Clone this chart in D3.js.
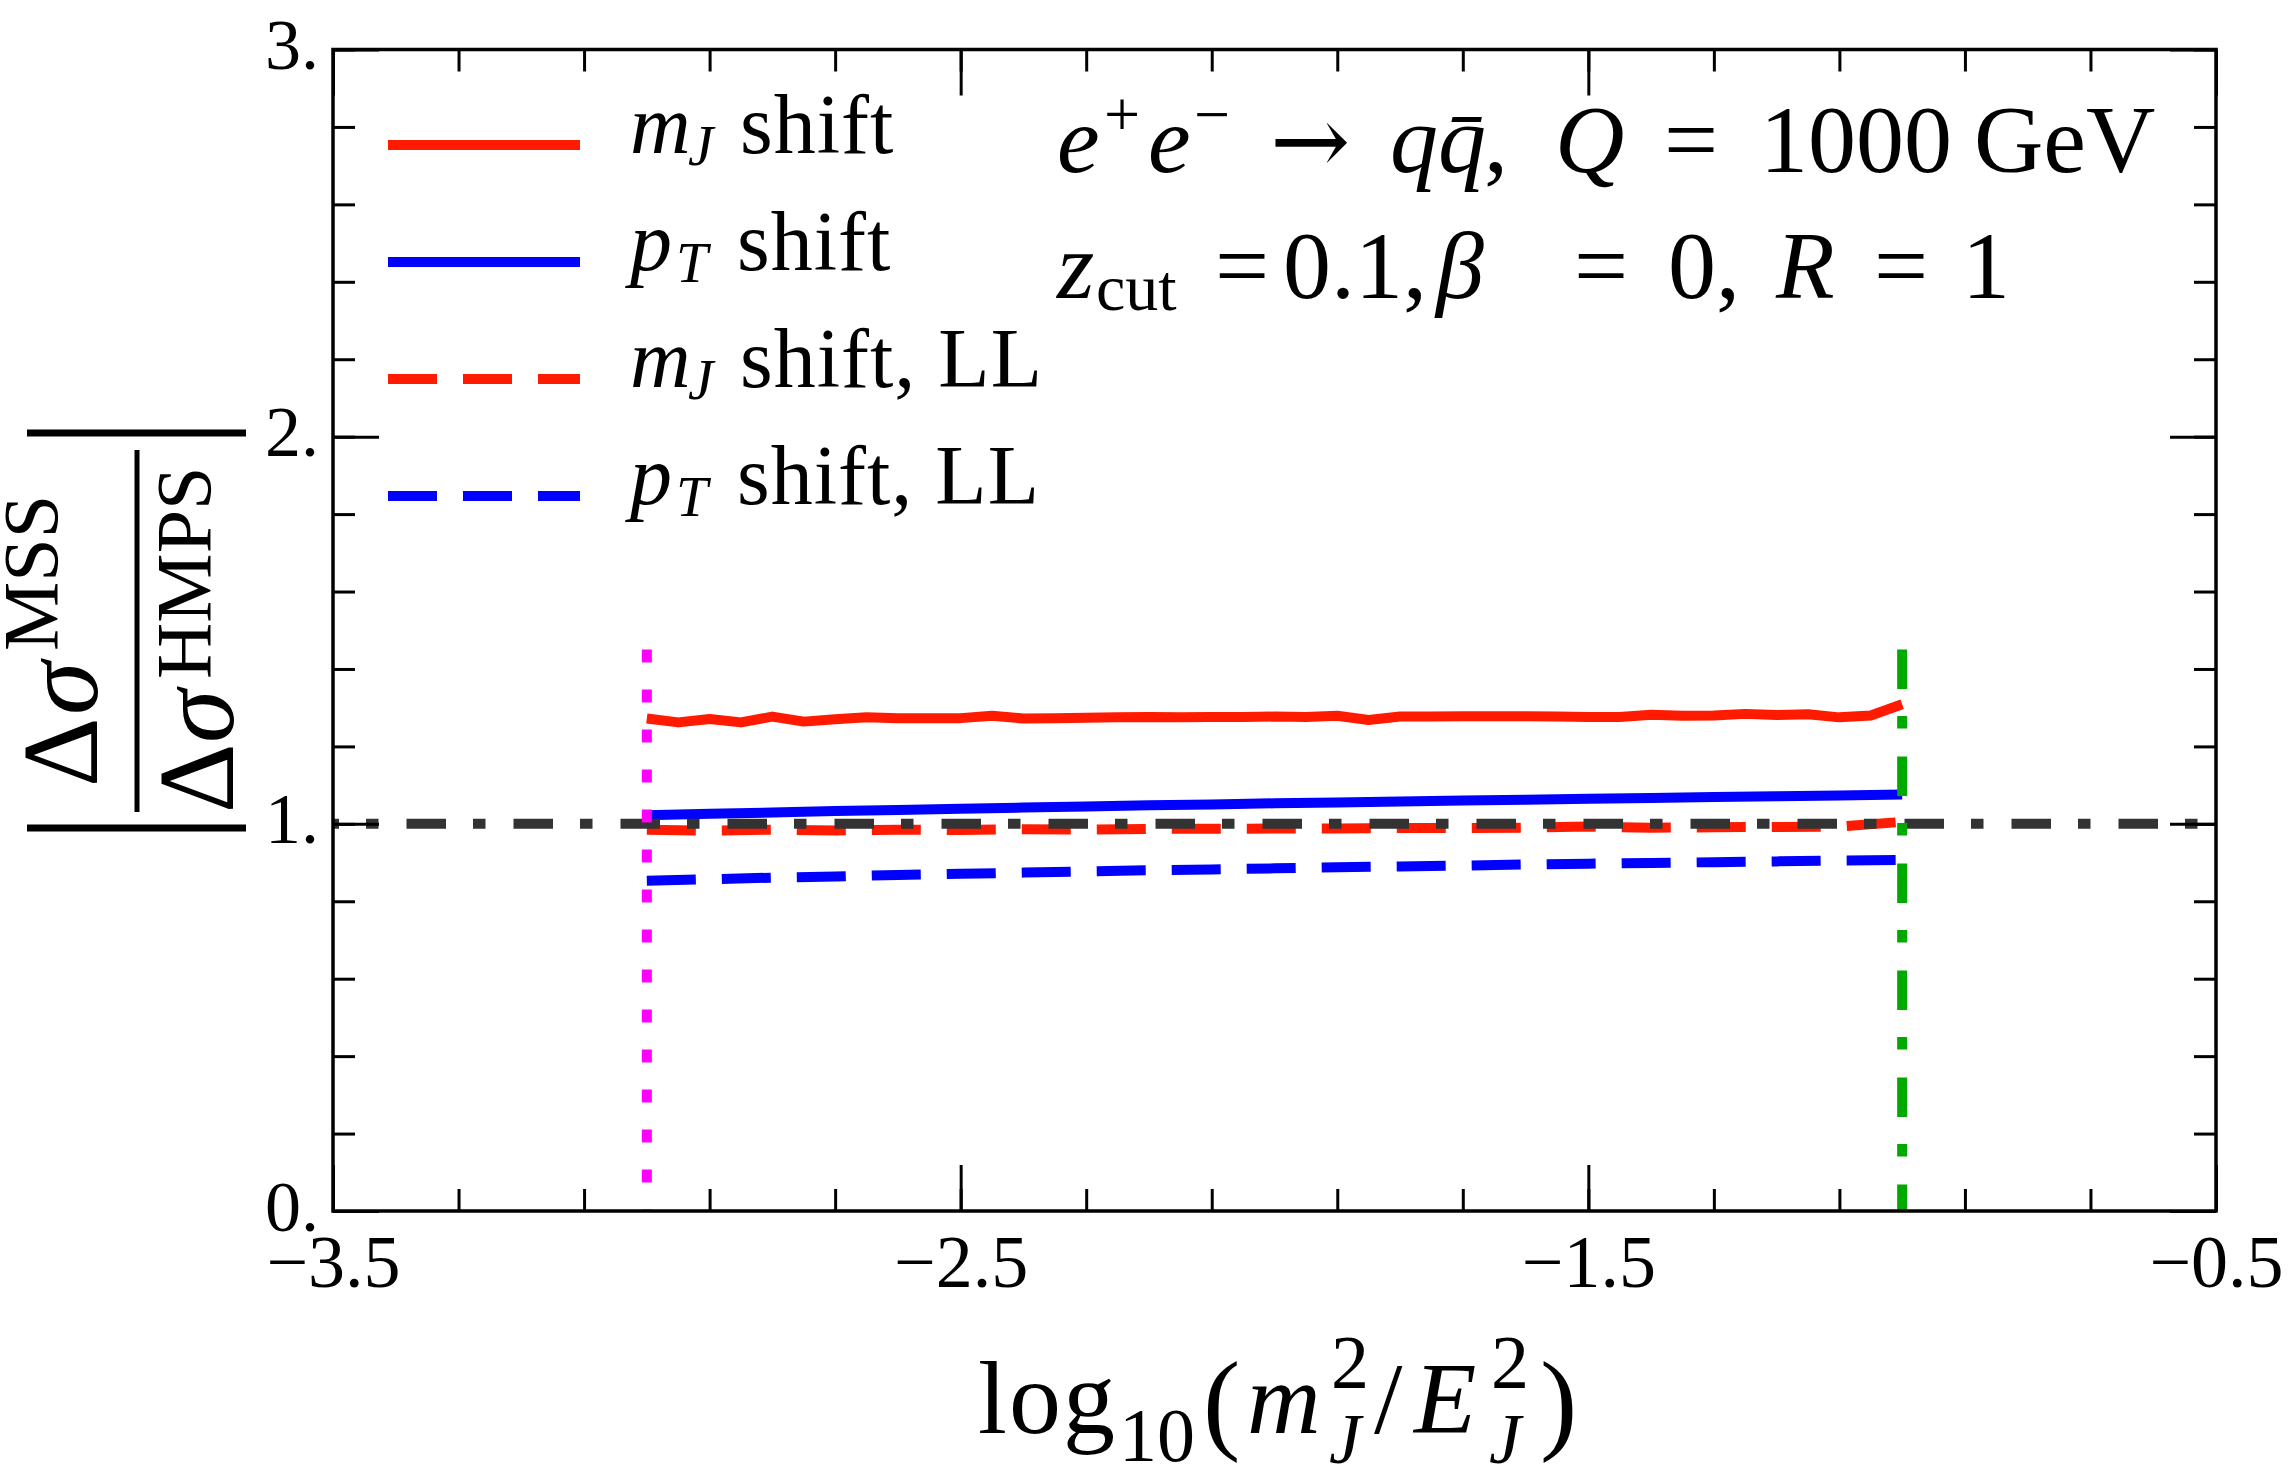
<!DOCTYPE html>
<html>
<head>
<meta charset="utf-8">
<script src="https://cdn.jsdelivr.net/npm/d3@7"></script>
<style>
  body { margin: 0; background: #fff; }
  text { font-family: "Liberation Serif", "Times New Roman", serif; fill: #000; }
</style>
</head>
<body>
<svg id="fig"></svg>
<script>
// ---- data ----
const xFine = [-3.00, -2.95, -2.90, -2.85, -2.80, -2.75, -2.70, -2.65, -2.60, -2.55,
               -2.50, -2.45, -2.40, -2.35, -2.30, -2.25, -2.20, -2.15, -2.10, -2.05,
               -2.00, -1.95, -1.90, -1.85, -1.80, -1.75, -1.70, -1.65, -1.60, -1.55,
               -1.50, -1.45, -1.40, -1.35, -1.30, -1.25, -1.20, -1.15, -1.10, -1.05, -1.00];
const mjShift = [1.272, 1.262, 1.271, 1.262, 1.277, 1.264, 1.270, 1.275, 1.273, 1.273,
                 1.273, 1.279, 1.272, 1.273, 1.274, 1.275, 1.276, 1.275, 1.276, 1.276,
                 1.277, 1.276, 1.279, 1.268, 1.277, 1.277, 1.278, 1.278, 1.278, 1.277,
                 1.276, 1.276, 1.282, 1.279, 1.280, 1.284, 1.281, 1.283, 1.275, 1.280, 1.309];

const xCoarse = [-3.0, -2.9, -2.8, -2.7, -2.6, -2.5, -2.4, -2.3, -2.2, -2.1,
                 -2.0, -1.9, -1.8, -1.7, -1.6, -1.5, -1.4, -1.3, -1.2, -1.1, -1.0];
const ptShift = [1.022, 1.026, 1.029, 1.033, 1.036, 1.039, 1.042, 1.045, 1.048, 1.050,
                 1.053, 1.055, 1.058, 1.060, 1.062, 1.065, 1.067, 1.069, 1.071, 1.073, 1.076];
const mjShiftLL = [0.985, 0.982, 0.985, 0.983, 0.985, 0.984, 0.986, 0.985, 0.987, 0.987,
                   0.988, 0.988, 0.989, 0.989, 0.990, 0.993, 0.990, 0.991, 0.992, 0.993, 1.005];
const ptShiftLL = [0.853, 0.857, 0.861, 0.864, 0.868, 0.871, 0.874, 0.877, 0.880, 0.882,
                   0.885, 0.888, 0.890, 0.892, 0.895, 0.897, 0.899, 0.901, 0.903, 0.905, 0.907];

// reference lines
const cutLow = -3.0, cutHigh = -1.0, cutTop = 1.45, unitRatio = 1.0;

// ticks
const xMajor = [-3.5, -2.5, -1.5, -0.5];
const xMajorLabels = ["\u22123.5", "\u22122.5", "\u22121.5", "\u22120.5"];
const xMinor = [-3.5, -3.3, -3.1, -2.9, -2.7, -2.5, -2.3, -2.1, -1.9, -1.7, -1.5, -1.3, -1.1, -0.9, -0.7, -0.5];
const yMajor = [0, 1, 2, 3];
const yMajorLabels = ["0.", "1.", "2.", "3."];
const yMinor = [0, 0.2, 0.4, 0.6, 0.8, 1.0, 1.2, 1.4, 1.6, 1.8, 2.0, 2.2, 2.4, 2.6, 2.8, 3.0];

const RED = "#ff1a00", BLUE = "#0000ff";

const series = [
  { x: xFine,   y: mjShift,   color: RED,  dash: null },
  { x: xCoarse, y: ptShift,   color: BLUE, dash: null },
  { x: xCoarse, y: mjShiftLL, color: RED,  dash: "49,26" },
  { x: xCoarse, y: ptShiftLL, color: BLUE, dash: "49,26" }
];

// legend: italic symbol, subscript, rest of the text
const legendItems = [
  { sym: "m", sub: "J", rest: "shift",     subX: 58, restX: 110 },
  { sym: "p", sub: "T", rest: "shift",     subX: 46, restX: 107 },
  { sym: "m", sub: "J", rest: "shift, LL", subX: 58, restX: 110 },
  { sym: "p", sub: "T", rest: "shift, LL", subX: 46, restX: 107 }
];

// ---- figure ----
const W = 2292, H = 1478;
const plotL = 333, plotR = 2216, plotT = 49.5, plotB = 1211;

const Fig = d3.select("#fig").attr("width", W).attr("height", H);

const xScale = d3.scaleLinear().domain([-3.5, -0.5]).range([plotL, plotR]);
const yScale = d3.scaleLinear().domain([0, 3]).range([plotB, plotT]);

// curves
const line = d3.line().x(d => xScale(d[0])).y(d => yScale(d[1]));
series.forEach(s => {
  Fig.append("path")
    .datum(s.x.map((v, i) => [v, s.y[i]]))
    .attr("d", line)
    .attr("fill", "none")
    .attr("stroke", s.color)
    .attr("stroke-width", 10)
    .attr("stroke-linejoin", "round")
    .attr("stroke-dasharray", s.dash);
});

// horizontal dash-dot at ratio = 1
Fig.append("path")
  .datum([[-3.5, unitRatio], [-0.5, unitRatio]])
  .attr("d", line)
  .attr("stroke", "#333333")
  .attr("stroke-width", 10)
  .attr("stroke-dasharray", "39.5,27,12.5,28")
  .attr("stroke-dashoffset", 33.5);

// vertical cut lines (drawn from the top down)
Fig.append("path")
  .datum([[cutLow, cutTop], [cutLow, 0]])
  .attr("d", line)
  .attr("stroke", "#ff00ff")
  .attr("stroke-width", 10)
  .attr("stroke-dasharray", "13,27");

Fig.append("path")
  .datum([[cutHigh, cutTop], [cutHigh, 0]])
  .attr("d", line)
  .attr("stroke", "#00a800")
  .attr("stroke-width", 10)
  .attr("stroke-dasharray", "39.5,27,12.5,28");

// axes: minor + major ticks pointing inward on all four sides
function tickAxis(axisFn, scale, values, size, tf, transform) {
  const g = Fig.append("g")
    .attr("transform", transform)
    .call(axisFn(scale).tickValues(values).tickSize(-size).tickFormat(tf));
  g.select(".domain").remove();
  g.selectAll(".tick line").attr("stroke", "#000").attr("stroke-width", 3);
  return g;
}
const noLabel = () => "";

tickAxis(d3.axisBottom, xScale, xMinor, 22, noLabel, `translate(0,${plotB})`);
tickAxis(d3.axisTop,    xScale, xMinor, 22, noLabel, `translate(0,${plotT})`);
tickAxis(d3.axisLeft,   yScale, yMinor, 22, noLabel, `translate(${plotL},0)`);
tickAxis(d3.axisRight,  yScale, yMinor, 22, noLabel, `translate(${plotR},0)`);
tickAxis(d3.axisTop,    xScale, xMajor, 46, noLabel, `translate(0,${plotT})`);
tickAxis(d3.axisRight,  yScale, yMajor, 46, noLabel, `translate(${plotR},0)`);

const xAx = tickAxis(d3.axisBottom, xScale, xMajor, 46, (d, i) => xMajorLabels[i], `translate(0,${plotB})`);
xAx.selectAll(".tick text")
  .attr("y", 76).attr("dy", null)
  .style("font-family", "Liberation Serif").style("font-size", "74px").attr("fill", "#000");

const yAx = tickAxis(d3.axisLeft, yScale, yMajor, 46, (d, i) => yMajorLabels[i], `translate(${plotL},0)`);
yAx.selectAll(".tick text")
  .attr("x", -14).attr("dy", 19)
  .style("font-family", "Liberation Serif").style("font-size", "72px").attr("fill", "#000");

// frame
Fig.append("rect")
  .attr("x", plotL).attr("y", plotT)
  .attr("width", plotR - plotL).attr("height", plotB - plotT)
  .attr("fill", "none").attr("stroke", "#000").attr("stroke-width", 3.5);

// helper for positioned text pieces
function txt(parent, x, y, s, size, italic, anchor) {
  return parent.append("text")
    .attr("x", x).attr("y", y)
    .attr("font-size", size)
    .attr("font-style", italic ? "italic" : "normal")
    .attr("text-anchor", anchor || "start")
    .text(s);
}

// legend
const legendRows = [153, 270, 387, 504];
legendItems.forEach((d, i) => {
  const s = series[i];
  const yb = legendRows[i];
  Fig.append("line")
    .attr("x1", 388).attr("x2", 580)
    .attr("y1", yb - 8).attr("y2", yb - 8)
    .attr("stroke", s.color).attr("stroke-width", 10)
    .attr("stroke-dasharray", s.dash);
  txt(Fig, 630, yb, d.sym, 84, true);
  txt(Fig, 630 + d.subX, yb + 12, d.sub, 57, true);
  txt(Fig, 630 + d.restX, yb, d.rest, 84, false).attr("letter-spacing", 1);
});

// annotation, line 1
const a1 = 172, a2 = 298, fs = 96, fsSub = 64;
txt(Fig, 1057, a1, "e", fs, true);
txt(Fig, 1104, 136, "+", fsSub, false);
txt(Fig, 1148, a1, "e", fs, true);
txt(Fig, 1194, 136, "\u2212", fsSub, false);
txt(Fig, 1270, a1 + 2, "\u2192", fs, false).style("font-family", "DejaVu Serif");
txt(Fig, 1390, a1, "q", fs, true);
txt(Fig, 1438, a1, "q\u0304", fs, true);
txt(Fig, 1484, a1, ",", fs, false);
txt(Fig, 1555, a1, "Q", fs, true);
txt(Fig, 1664, a1, "=", fs, false);
txt(Fig, 1760, a1, "1000", fs, false);
txt(Fig, 1974, a1, "GeV", fs, false);

// annotation, line 2
txt(Fig, 1057, a2, "z", fs, true);
txt(Fig, 1096, 310, "cut", 66, false);
txt(Fig, 1215, a2, "=", fs, false);
txt(Fig, 1283, a2, "0.1,", fs, false);
txt(Fig, 1436, a2, "\u03b2", fs, true);
txt(Fig, 1574, a2, "=", fs, false);
txt(Fig, 1668, a2, "0,", fs, false);
txt(Fig, 1776, a2, "R", fs, true);
txt(Fig, 1874, a2, "=", fs, false);
txt(Fig, 1962, a2, "1", fs, false);

// x-axis title: log10(mJ^2 / EJ^2)
const xb = 1433;
txt(Fig, 978, xb, "log", 104, false).attr("letter-spacing", 2);
txt(Fig, 1119, xb + 28, "10", 76, false);
txt(Fig, 1203, xb + 6, "(", 112, false);
txt(Fig, 1247, xb, "m", 102, true);
txt(Fig, 1331, 1388, "2", 76, false);
txt(Fig, 1329, 1463, "J", 72, true);
txt(Fig, 1374, xb, "/", 102, false);
txt(Fig, 1414, xb, "E", 102, true);
txt(Fig, 1491, 1388, "2", 76, false);
txt(Fig, 1489, 1463, "J", 72, true);
txt(Fig, 1540, xb + 6, ")", 112, false);

// y-axis title: |Δσ^MSS / Δσ^HMPS|, rotated
const yl = Fig.append("g").attr("transform", "translate(137,631) rotate(-90)");
yl.append("line").attr("x1", -181).attr("x2", 181).attr("y1", 0).attr("y2", 0)
  .attr("stroke", "#000").attr("stroke-width", 5);
[198, -197].forEach(px => {
  yl.append("line").attr("x1", px).attr("x2", px).attr("y1", -110).attr("y2", 109)
    .attr("stroke", "#000").attr("stroke-width", 7);
});
txt(yl, -156, -40, "\u0394", 108, false);
txt(yl, -84, -40, "\u03c3", 108, true);
txt(yl, -20, -80, "MSS", 78, false);
txt(yl, -182, 96, "\u0394", 108, false);
txt(yl, -112, 96, "\u03c3", 108, true);
txt(yl, -48, 73, "HMPS", 78, false);
</script>
</body>
</html>
